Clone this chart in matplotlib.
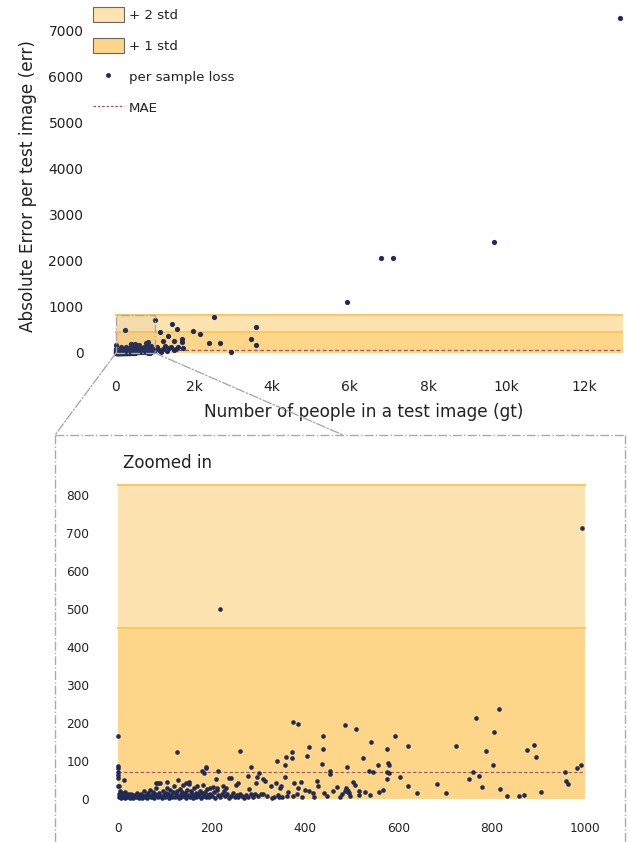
import numpy as np
import matplotlib.pyplot as plt
from matplotlib.patches import Patch, Rectangle, ConnectionPatch
from matplotlib.lines import Line2D

# ---- data ----
# per-sample points with gt < 1000 (shown in both panels)
gt_small = [0, 0, 0, 0, 0, 0, 1, 3, 13, 218, 994,
            2, 3, 4, 5, 6, 8, 10, 12, 14, 16, 18, 20, 22, 24, 26, 28, 30, 32, 34, 36, 38, 40, 42, 44, 46, 48,
            50, 52, 54, 56, 58, 60, 62, 64, 66, 68, 70, 72, 74, 76, 78, 80, 82, 84, 86, 88, 90, 92, 94, 96, 98,
            100, 102, 104, 106, 108, 110, 112, 114, 116, 118, 120, 122, 124, 126, 128, 130, 132, 134, 136, 138,
            140, 142, 144, 146, 148, 150, 152, 154, 156, 158, 160, 162, 164, 166, 168, 170, 172, 174, 176, 178,
            180, 182, 184, 186, 188, 190, 192, 194, 196, 198, 202, 205, 208, 212, 215, 218, 222, 226, 230, 234,
            238, 242, 246, 250, 254, 258, 262, 266, 270, 274, 278, 285, 290, 300, 306, 320, 330, 342, 352, 365,
            375, 395, 410, 420, 448, 460, 475, 480, 497,
            81, 85, 106, 128, 145, 151, 127, 261, 374, 385, 486, 440, 408, 439, 372, 405, 359, 372, 340, 358,
            436, 491, 455, 453, 285, 188, 188, 180, 185, 215, 279, 302, 297, 311, 315, 237, 242, 209, 256, 253,
            224, 231, 213, 203, 296, 281, 328, 338, 349, 347, 358, 377, 386, 391, 361, 383, 400, 426, 429, 418,
            441, 470, 488, 493, 334, 344, 293, 311,
            487, 492, 495, 490, 509, 504, 508, 515, 515, 525, 528, 539, 538, 545, 542, 556, 558, 567, 577, 578,
            580, 575, 580, 577, 593, 603, 620, 622, 640, 682, 703, 723, 751, 761, 766, 774, 780, 787, 803, 806,
            816, 817, 833, 859, 869, 875, 890, 895, 905, 957, 960, 963, 982, 991]
err_small = [167, 87, 82, 72, 63, 54, 34, 34, 50, 500, 712,
             5, 12, 20, 8, 3, 15, 6, 10, 2, 18, 7, 4, 12, 9, 3, 14, 6, 2, 11, 8, 4, 16, 7, 3, 10, 5,
             13, 2, 8, 20, 5, 11, 3, 15, 7, 24, 4, 10, 18, 6, 2, 12, 28, 8, 4, 16, 41, 9, 3, 22, 11,
             5, 17, 30, 8, 13, 3, 25, 10, 6, 19, 35, 4, 14, 22, 9, 2, 27, 12, 6, 18,
             38, 8, 15, 3, 24, 11, 40, 6, 20, 14, 3, 28, 9, 17, 5, 33, 12, 7, 22, 2,
             15, 36, 8, 19, 4, 26, 11, 6, 30, 14, 8, 18, 3, 24, 10, 5, 14, 20, 7, 12,
             2, 9, 16, 4, 11, 6, 13, 8, 3, 10, 5, 12, 4, 9, 14, 7, 3, 11, 5, 18,
             8, 6, 22, 4, 9, 20, 5, 12, 8,
             43, 43, 45, 50, 41, 44, 125, 126, 203, 198, 196, 167, 137, 132, 123, 113, 110, 108, 101, 89,
             92, 84, 74, 66, 85, 85, 81, 74, 69, 75, 61, 68, 59, 52, 47, 54, 56, 52, 41, 37,
             35, 30, 30, 32, 41, 26, 35, 41, 35, 28, 58, 41, 30, 46, 9, 12, 24, 48, 34, 15,
             15, 32, 28, 21, 6, 6, 13, 13,
             22, 18, 15, 25, 183, 46, 37, 22, 11, 109, 19, 11, 74, 71, 149, 90, 18, 24, 132, 94,
             89, 71, 69, 53, 166, 57, 34, 139, 15, 40, 16, 140, 53, 71, 213, 61, 32, 126, 90, 176,
             238, 27, 9, 8, 11, 128, 142, 110, 19, 72, 47, 39, 82, 89]

# per-sample points with gt >= 1000 (only in the full panel)
gt_large = [1050, 1100, 1130, 1150, 1195, 1200, 1250, 1300, 1340, 1350, 1420, 1445, 1480, 1490, 1550,
            1555, 1600, 1700, 1700, 1725, 1965, 2150, 2390, 2520, 2670, 2940, 3450, 3580, 3580,
            5920, 6790, 7100, 9690, 12920]
err_large = [140, 60, 457, 30, 267, 90, 150, 40, 376, 100, 120, 622, 60, 260, 80,
             528, 137, 304, 232, 101, 478, 406, 210, 776, 224, 28, 304, 565, 174,
             1110, 2065, 2065, 2410, 7280]

mae = 72
band1_top = 450
band2_top = 826
gt_max = 13000
zoom_max = 1000

# ---- style ----
W, H = 628, 842
c_band2 = '#fde3b0'
c_band1 = '#fdd68a'
c_edge = '#f9c864'
c_dot = '#1f2a56'
c_mae = '#a0525a'
c_box = '#aaaaaa'
c_txt = '#222222'

fig = plt.figure(figsize=(W / 100, H / 100), dpi=100)


def px_axes(l, t, r, b):
    return fig.add_axes([l / W, 1 - b / H, (r - l) / W, (b - t) / H])


def fp(x, y):
    return (x / W, 1 - y / H)


def style(ax, size, xpad, ypad):
    for s in ax.spines.values():
        s.set_visible(False)
    ax.tick_params(length=0, labelsize=size, labelcolor=c_txt)
    ax.tick_params(axis='x', pad=xpad)
    ax.tick_params(axis='y', pad=ypad)


gt_all = gt_small + gt_large
err_all = err_small + err_large

# ---- full panel ----
ax = px_axes(104.3, 10.3, 623, 362.2)
ax.set_xlim(-300, gt_max)
ax.set_ylim(-200, 7450)
ax.fill_between([0, gt_max], band1_top, band2_top, color=c_band2, lw=0, zorder=1)
ax.fill_between([0, gt_max], 0, band1_top, color=c_band1, lw=0, zorder=1)
ax.plot([0, gt_max], [band2_top, band2_top], color=c_edge, lw=1.5, zorder=2)
ax.plot([0, gt_max], [band1_top, band1_top], color=c_edge, lw=1.5, zorder=2)
ax.plot([0, gt_max], [mae, mae], color=c_mae, lw=0.9, ls=(0, (3, 2)), zorder=3)
ax.scatter(gt_all, err_all, s=14, color=c_dot, lw=0, zorder=4, clip_on=False)
ax.add_patch(Rectangle((0, 0), zoom_max, band2_top, fill=True, facecolor='#888888', alpha=0.08,
                       edgecolor='none', zorder=5))
ax.add_patch(Rectangle((0, 0), zoom_max, band2_top, fill=False, edgecolor=c_box, lw=1,
                       ls='-.', zorder=5))
ax.set_xticks(range(0, 12001, 2000))
ax.set_xticklabels(['0', '2k', '4k', '6k', '8k', '10k', '12k'])
ax.set_yticks(range(0, 7001, 1000))
style(ax, 10, 13, 15)
ax.set_xlabel('Number of people in a test image (gt)', fontsize=12.2, color=c_txt, labelpad=6)
ax.set_ylabel('Absolute Error per test image (err)', fontsize=12.2, color=c_txt, labelpad=8)

# ---- zoomed panel ----
ax2 = px_axes(106.3, 479.8, 596.7, 810.4)
ax2.set_xlim(-25, 1025)
ax2.set_ylim(-30, 840)
ax2.fill_between([0, zoom_max], band1_top, band2_top, color=c_band2, lw=0, zorder=1)
ax2.fill_between([0, zoom_max], 0, band1_top, color=c_band1, lw=0, zorder=1)
ax2.plot([0, zoom_max], [band2_top, band2_top], color=c_edge, lw=1.5, zorder=2)
ax2.plot([0, zoom_max], [band1_top, band1_top], color=c_edge, lw=1.5, zorder=2)
ax2.plot([0, zoom_max], [mae, mae], color=c_mae, lw=0.8, ls=(0, (3, 2)), zorder=3)
ax2.scatter(gt_small, err_small, s=11, color=c_dot, lw=0, zorder=4)
ax2.set_xticks(range(0, 1001, 200))
ax2.set_yticks(range(0, 801, 100))
style(ax2, 8.7, 8.6, 12.3)
fig.text(123 / W, 1 - 463 / H, 'Zoomed in', fontsize=12, color=c_txt, va='center', ha='left')

# ---- inset frame and connectors ----
frame = dict(color=c_box, lw=1, ls='-.', transform=fig.transFigure)
fig.add_artist(Line2D(*zip(fp(55, 435), fp(625, 435)), **frame))
fig.add_artist(Line2D(*zip(fp(55, 435), fp(55, 842)), **frame))
fig.add_artist(Line2D(*zip(fp(625, 435), fp(625, 842)), **frame))
for xd, xp in [(0, 55), (zoom_max, 343)]:
    con = ConnectionPatch(xyA=(xd, 0), coordsA=ax.transData, xyB=fp(xp, 435),
                          coordsB=fig.transFigure, color=c_box, lw=1, ls='-.')
    fig.add_artist(con)

# ---- legend ----
handles = [Patch(facecolor=c_band2, edgecolor='#666666', lw=0.8),
           Patch(facecolor=c_band1, edgecolor='#666666', lw=0.8),
           Line2D([], [], marker='.', ms=5, ls='none', color=c_dot),
           Line2D([], [], ls=(0, (2, 1.5)), lw=0.9, color=c_mae)]
labels = ['+ 2 std', '+ 1 std', 'per sample loss', 'MAE']
fig.legend(handles, labels, loc='upper left', bbox_to_anchor=fp(93, 7), frameon=False,
           fontsize=9.6, handlelength=2.3, handleheight=1.35, labelspacing=1.2,
           handletextpad=0.4, borderpad=0, borderaxespad=0, labelcolor=c_txt)

fig.savefig('out.png', dpi=100)
